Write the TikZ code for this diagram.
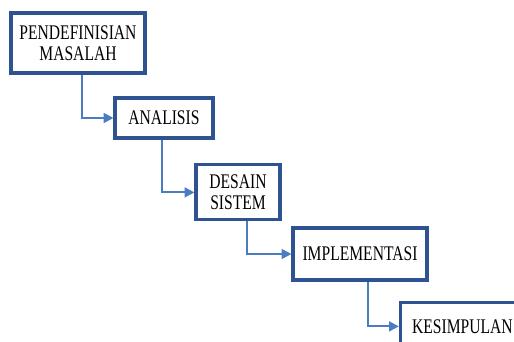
\documentclass[tikz,border=0pt]{standalone}
\usepackage{fontspec}
\newfontfamily\boxfont[FakeStretch=0.75]{Liberation Serif}
\usetikzlibrary{arrows.meta,positioning}
\definecolor{boxblue}{HTML}{2F5290}
\definecolor{lineblue}{HTML}{4A7CC4}

\begin{document}
\begin{tikzpicture}[scale=1.0,
    stepbox/.style={draw=boxblue, line width=2.2pt, fill=white, align=center,
      inner sep=0pt, font=\boxfont\fontsize{14.8}{15.3}\selectfont},
    flow/.style={draw=lineblue, line width=1.4pt, -{Triangle[length=7pt,width=7pt]}}]
    % page
    \clip (0,0) rectangle (12.85,8.55);
    % steps
    \node[stepbox, minimum width=3.35cm, minimum height=1.5cm] (masalah) at (1.95,7.475) {PENDEFINISIAN\\MASALAH};
    \node[stepbox, minimum width=2.45cm, minimum height=1.0cm] (analisis) at (4.1,5.6) {ANALISIS};
    \node[stepbox, minimum width=2.1cm, minimum height=1.375cm] (desain) at (5.95,3.74) {DESAIN\\SISTEM};
    \node[stepbox, minimum width=3.35cm, minimum height=1.3cm] (implementasi) at (9.0,2.2) {IMPLEMENTASI};
    \node[stepbox, minimum width=3.1cm, minimum height=1.175cm] (kesimpulan) at (11.56,0.39) {KESIMPULAN};
    % connectors
    \draw[flow] ([xshift=0.1cm]masalah.south) |- (analisis.west);
    \draw[flow] ([xshift=-0.05cm]analisis.south) |- (desain.west);
    \draw[flow] ([xshift=0.22cm]desain.south) |- (implementasi.west);
    \draw[flow] ([xshift=0.2cm]implementasi.south) |- (kesimpulan.west);
\end{tikzpicture}
\end{document}
